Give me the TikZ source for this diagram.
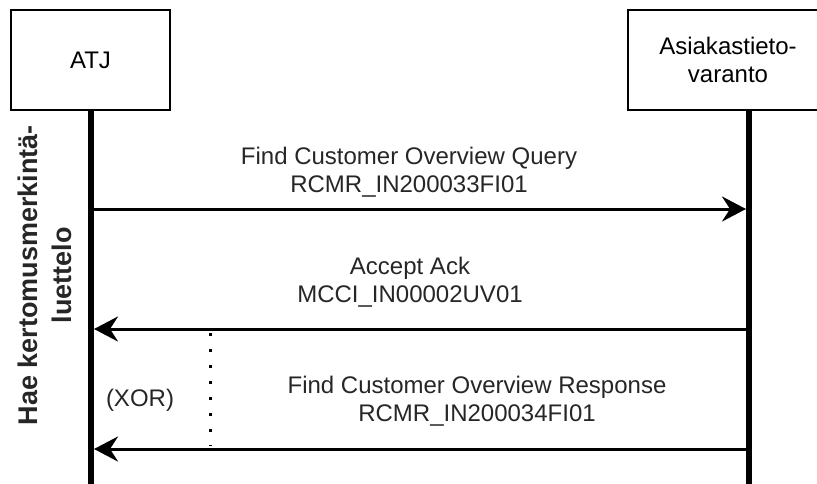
\documentclass[tikz,border=0pt]{standalone}
\usepackage{fontspec}
\setmainfont{Liberation Sans}
\usetikzlibrary{arrows.meta}

\begin{document}
\begin{tikzpicture}[
  x=0.5pt, y=-0.5pt,
  font=\fontsize{12}{14}\selectfont,
  actor/.style={draw, line width=1pt, fill=white, align=center, inner sep=0pt, minimum height=50pt},
  life/.style={line width=3pt},
  msg/.style={line width=1.5pt, -{Stealth[length=12pt, width=12.5pt, inset=4pt]}},
  lbl/.style={align=center, text=black!85},
  xorline/.style={line width=1.5pt, dash pattern=on 1.5pt off 6.5pt}
]
\useasboundingbox (0,0) rectangle (817,483);

\node[actor, minimum width=79.5pt] (atj) at (90.5,60) {ATJ};
\node[actor, minimum width=100pt] (akv) at (728,60) {Asiakastieto-\\varanto};

% lifelines
\coordinate (atjtop) at (91,110);
\coordinate (atjend) at (91,490);
\coordinate (akvtop) at (749,110);
\coordinate (akvend) at (749,490);
\draw[life] (atjtop) -- (atjend);
\draw[life] (akvtop) -- (akvend);

% message rows
\coordinate (row1) at (0,209);
\coordinate (row2) at (0,329);
\coordinate (row3) at (0,449);

\draw[msg] ([xshift=1.5pt]atjtop |- row1) -- ([xshift=-1.5pt]akvtop |- row1);
\draw[msg] ([xshift=-1.5pt]akvtop |- row2) -- ([xshift=1.5pt]atjtop |- row2);
\draw[msg] ([xshift=-1.5pt]akvtop |- row3) -- ([xshift=1.5pt]atjtop |- row3);

\node[lbl] (query) at (409,172) {Find Customer Overview Query\\RCMR\_IN200033FI01};
\node[lbl] (ack) at (410,282) {Accept Ack\\MCCI\_IN00002UV01};
\node[lbl] (resp) at (477,401) {Find Customer Overview Response\\RCMR\_IN200034FI01};

% alternative marker
\coordinate (xortop) at (210,333);
\coordinate (xorend) at (210,446);
\draw[xorline] (xortop) -- (xorend);
\node[lbl] (xor) at (140,400) {(XOR)};

\node[rotate=90, align=center, text=black!85,
  font=\bfseries\fontsize{13.5}{17}\selectfont] (title) at (45,275)
  {Hae kertomusmerkintä-\\luettelo};
\end{tikzpicture}
\end{document}
